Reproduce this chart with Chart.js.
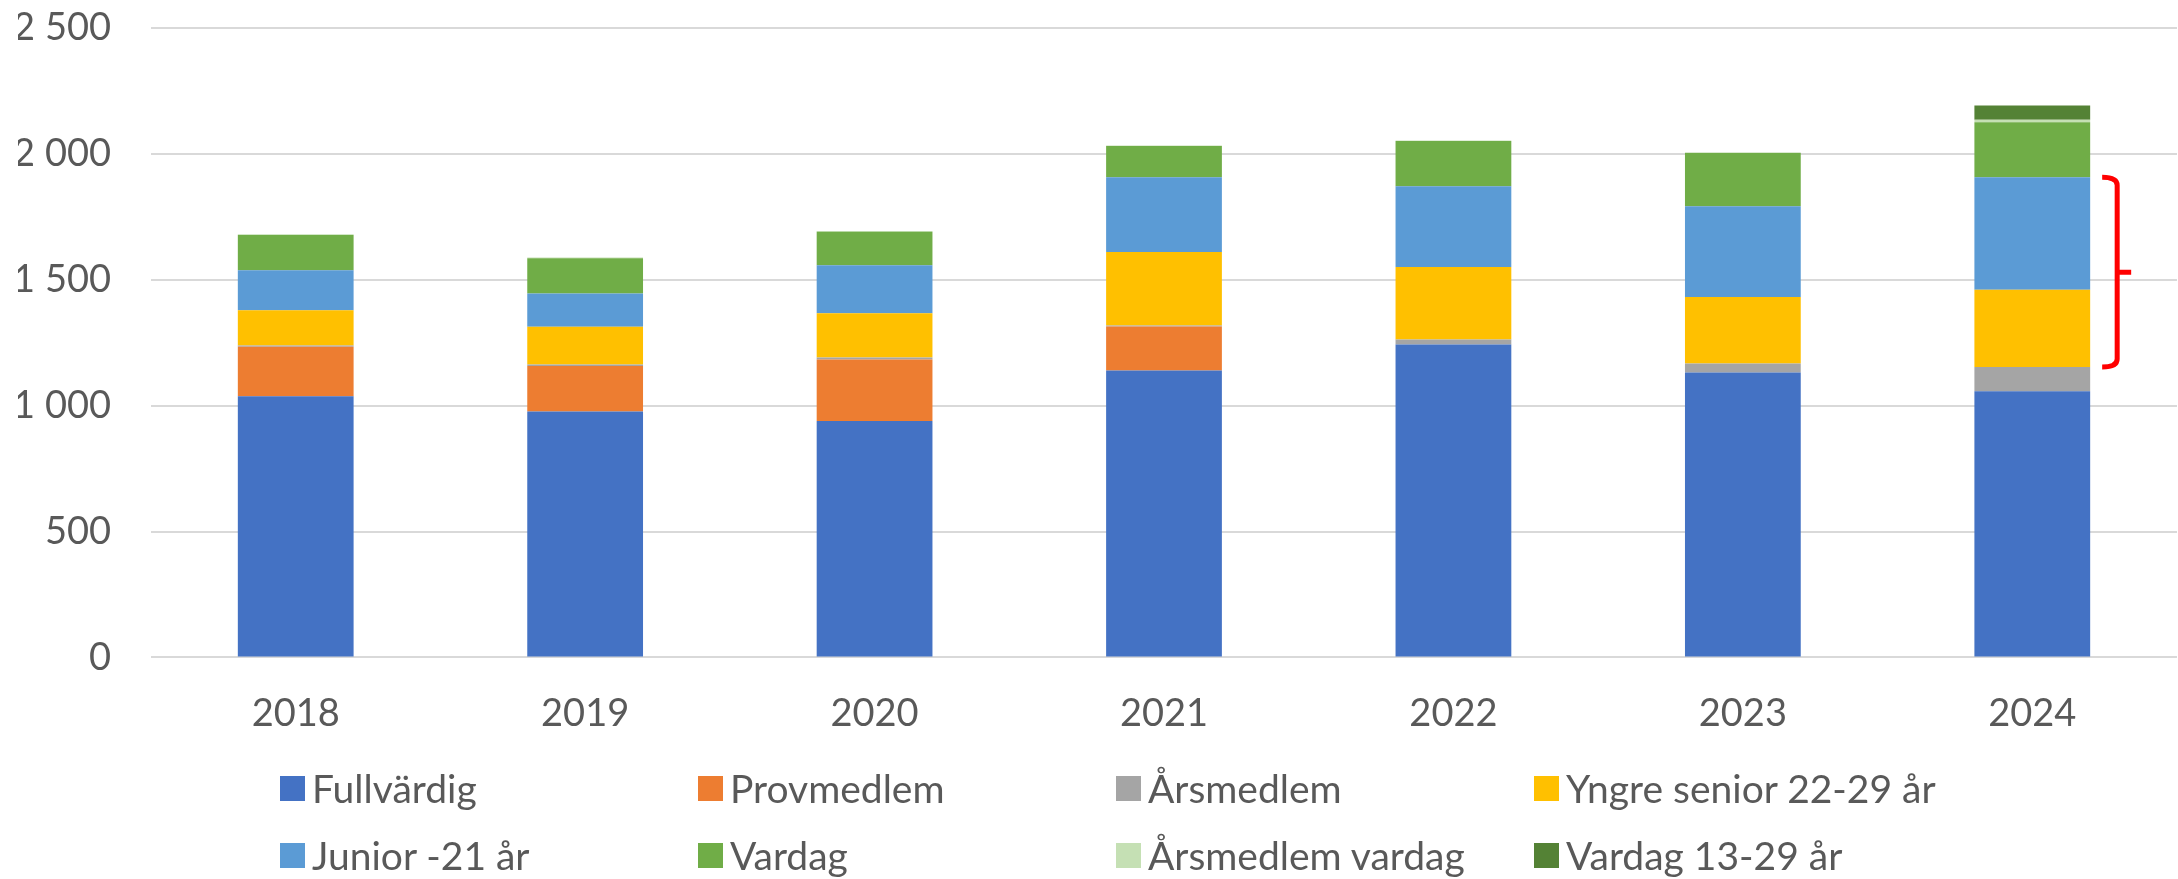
<!DOCTYPE html>
<html>
<head>
<meta charset="utf-8">
<script src="https://cdn.jsdelivr.net/npm/chart.js@4"></script>
<style>
  html, body { margin: 0; padding: 0; background: #fff; }
  body { width: 2178px; height: 879px; position: relative; overflow: hidden; font-family: Lato, sans-serif; }
  #wrap { position: absolute; left: 0; top: 0; width: 2178px; height: 773px; }
  #legend { position: absolute; left: 280px; top: 771px; display: grid;
            grid-template-columns: repeat(4, 418px); grid-auto-rows: 67px; }
  .item { display: flex; align-items: center; height: 34px; color: #595959; font-size: 39px; white-space: nowrap; }
  .box { width: 25px; height: 25px; margin-right: 7px; flex: none; }
</style>
</head>
<body>
<div id="wrap"><canvas id="membersChart"></canvas></div>
<div id="legend"></div>
<script>
// Data
const years = ['2018', '2019', '2020', '2021', '2022', '2023', '2024'];
const fullvardig = [1037, 977, 939, 1140, 1243, 1132, 1057];
const provmedlem = [197, 180, 244, 174, 0, 0, 0];
const arsmedlem = [5, 6, 8, 4, 20, 35, 96];
const yngreSenior = [140, 150, 176, 292, 288, 265, 307];
const junior = [159, 132, 191, 297, 320, 360, 447];
const vardag = [140, 140, 133, 124, 180, 212, 219];
const arsmedlemVardag = [3, 3, 3, 2, 2, 0, 10];
const vardag1329 = [0, 0, 0, 0, 0, 0, 56];
const yTicks = [0, 500, 1000, 1500, 2000, 2500];

const series = [
    { label: 'Fullvärdig', data: fullvardig, color: '#4472C4' },
    { label: 'Provmedlem', data: provmedlem, color: '#ED7D31' },
    { label: 'Årsmedlem', data: arsmedlem, color: '#A5A5A5' },
    { label: 'Yngre senior 22-29 år', data: yngreSenior, color: '#FFC000' },
    { label: 'Junior -21 år', data: junior, color: '#5B9BD5' },
    { label: 'Vardag', data: vardag, color: '#70AD47' },
    { label: 'Årsmedlem vardag', data: arsmedlemVardag, color: '#C5E0B4' },
    { label: 'Vardag 13-29 år', data: vardag1329, color: '#548235' }
];

function fmt(v) {
    return String(v).replace(/\B(?=(\d{3})+(?!\d))/g, ' ');
}

// Red bracket next to the last bar, spanning Yngre senior + Junior
const bracketPlugin = {
    id: 'bracket',
    afterDatasetsDraw(chart) {
        const last = years.length - 1;
        const yngre = chart.getDatasetMeta(3).data[last];
        const jun = chart.getDatasetMeta(4).data[last];
        const top = jun.y;
        const bottom = yngre.base;
        const mid = (top + bottom) / 2;
        const x0 = yngre.x + yngre.width / 2 + 12;
        const xv = x0 + 15;
        const ctx = chart.ctx;
        ctx.save();
        ctx.strokeStyle = '#FF0000';
        ctx.lineWidth = 5;
        ctx.lineJoin = 'round';
        ctx.beginPath();
        ctx.moveTo(x0, top);
        ctx.quadraticCurveTo(xv, top, xv, top + 8);
        ctx.lineTo(xv, bottom - 8);
        ctx.quadraticCurveTo(xv, bottom, x0, bottom);
        ctx.moveTo(xv, mid);
        ctx.lineTo(xv + 14, mid);
        ctx.stroke();
        ctx.restore();
    }
};

const ctx = document.getElementById('membersChart').getContext('2d');
new Chart(ctx, {
    type: 'bar',
    data: {
        labels: years,
        datasets: series.map(s => ({
            label: s.label,
            data: s.data,
            backgroundColor: s.color,
            borderWidth: 0,
            barPercentage: 0.4,
            categoryPercentage: 1.0
        }))
    },
    options: {
        responsive: true,
        maintainAspectRatio: false,
        animation: false,
        layout: {
            padding: { left: 18, right: 1, top: 28, bottom: 2 }
        },
        plugins: {
            legend: { display: false },
            tooltip: { enabled: false }
        },
        scales: {
            x: {
                stacked: true,
                grid: { display: false, drawTicks: false },
                border: { display: false },
                afterFit(axis) {
                    axis.paddingLeft = 0;
                    axis.paddingRight = 0;
                },
                ticks: {
                    color: '#595959',
                    padding: 34,
                    font: { family: 'Lato', size: 38 }
                }
            },
            y: {
                stacked: true,
                min: yTicks[0],
                max: yTicks[yTicks.length - 1],
                afterBuildTicks(axis) {
                    axis.ticks = yTicks.map(v => ({ value: v }));
                },
                afterFit(axis) {
                    axis.width = 133;
                    axis.paddingTop = 0;
                    axis.paddingBottom = 0;
                },
                grid: { color: '#D9D9D9', lineWidth: 2, drawTicks: false },
                border: { display: false },
                ticks: {
                    color: '#595959',
                    padding: 40,
                    font: { family: 'Lato', size: 38 },
                    callback: function(value) {
                        return fmt(value);
                    }
                }
            }
        }
    },
    plugins: [bracketPlugin]
});

// Legend in a fixed 4-column grid like the original
const legendEl = document.getElementById('legend');
series.forEach(s => {
    const item = document.createElement('div');
    item.className = 'item';
    const box = document.createElement('span');
    box.className = 'box';
    box.style.background = s.color;
    const text = document.createElement('span');
    text.textContent = s.label;
    item.appendChild(box);
    item.appendChild(text);
    legendEl.appendChild(item);
});
</script>
</body>
</html>
